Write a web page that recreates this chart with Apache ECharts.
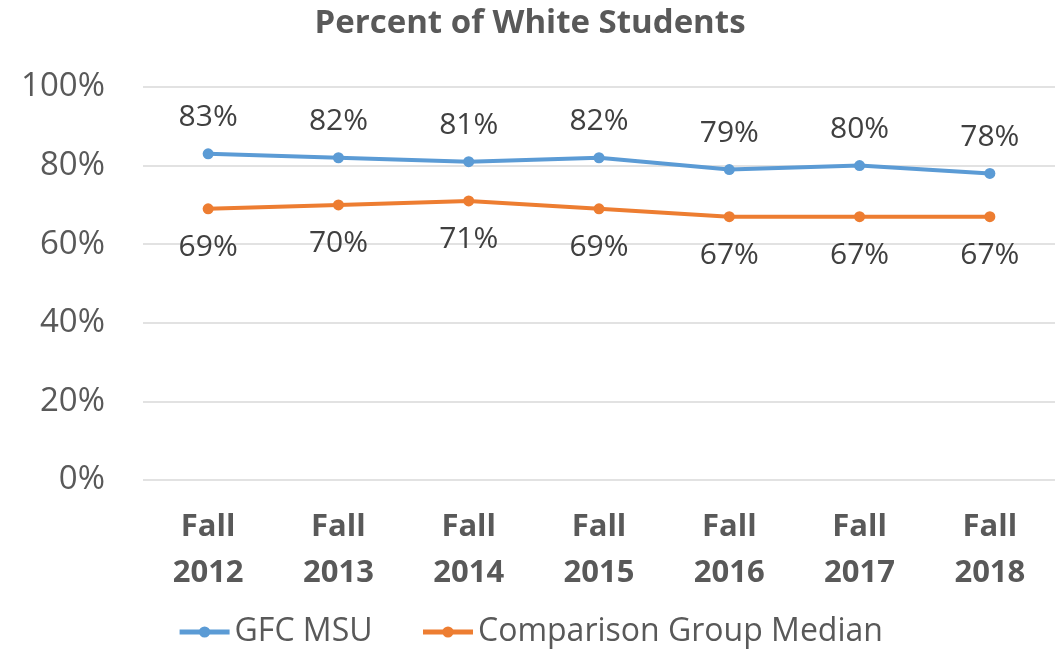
<!DOCTYPE html>
<html>
<head>
<meta charset="utf-8">
<script src="https://cdn.jsdelivr.net/npm/echarts@6/dist/echarts.min.js"></script>
<style>
  html, body { margin: 0; padding: 0; background: #fff; }
  #chart { width: 1060px; height: 653px; }
</style>
</head>
<body>
<div id="chart"></div>
<script>
// 数据
var categories = ['Fall\n2012', 'Fall\n2013', 'Fall\n2014', 'Fall\n2015', 'Fall\n2016', 'Fall\n2017', 'Fall\n2018'];
var gfcMsu = [83, 82, 81, 82, 79, 80, 78];
var comparisonMedian = [69, 70, 71, 69, 67, 67, 67];
var yTicks = [0, 20, 40, 60, 80, 100];

var font = '"Open Sans", "Noto Sans", sans-serif';

var chart = echarts.init(document.getElementById('chart'));
chart.setOption({
  animation: false,
  backgroundColor: '#fff',
  title: {
    text: 'Percent of White Students',
    left: 'center',
    top: 2,
    textStyle: { fontFamily: font, fontSize: 33, fontWeight: 'bold', color: '#595959' }
  },
  legend: {
    bottom: 0,
    left: 'center',
    itemWidth: 50,
    itemHeight: 14,
    itemGap: 48,
    lineStyle: { width: 5 },
    textStyle: { fontFamily: font, fontSize: 32, color: '#595959' },
    data: ['GFC MSU', 'Comparison Group Median']
  },
  grid: { left: 143, right: 5, top: 87, bottom: 173 },
  xAxis: {
    type: 'category',
    data: categories,
    axisLine: { show: false },
    axisTick: { show: false },
    axisLabel: {
      fontFamily: font, fontSize: 31, fontWeight: 'bold', color: '#595959',
      lineHeight: 46, margin: 24
    }
  },
  yAxis: {
    type: 'value',
    min: yTicks[0],
    max: yTicks[yTicks.length - 1],
    interval: 20,
    axisLine: { show: false },
    axisTick: { show: false },
    splitLine: { lineStyle: { color: '#d9d9d9', width: 1.5 } },
    axisLabel: {
      fontFamily: font, fontSize: 33, color: '#595959', margin: 38,
      formatter: function (v) { return v + '%'; }
    }
  },
  series: [
    {
      name: 'GFC MSU',
      type: 'line',
      data: gfcMsu,
      color: '#5B9BD5',
      symbol: 'circle',
      symbolSize: 11,
      lineStyle: { width: 4 },
      label: {
        show: true, position: 'top', distance: 16,
        fontFamily: font, fontSize: 30, color: '#404040',
        formatter: '{c}%'
      }
    },
    {
      name: 'Comparison Group Median',
      type: 'line',
      data: comparisonMedian,
      color: '#ED7D31',
      symbol: 'circle',
      symbolSize: 11,
      lineStyle: { width: 4 },
      label: {
        show: true, position: 'bottom', distance: 18,
        fontFamily: font, fontSize: 30, color: '#404040',
        formatter: '{c}%'
      }
    }
  ]
});
</script>
</body>
</html>
